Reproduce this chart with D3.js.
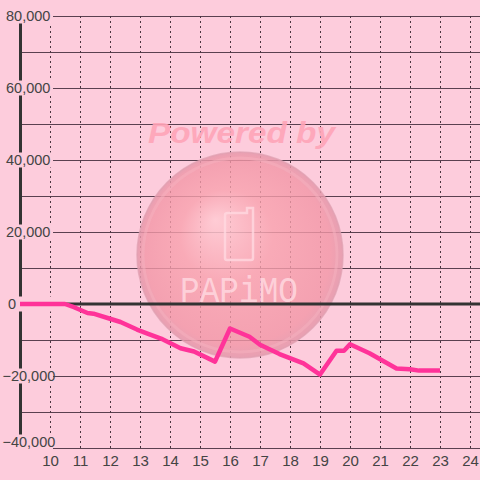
<!DOCTYPE html>
<html>
<head>
<meta charset="utf-8">
<script src="https://cdn.jsdelivr.net/npm/d3@7"></script>
<style>
  html, body { margin: 0; padding: 0; background: #fdccdc; }
  svg { display: block; }
  text { font-family: "Liberation Sans", Arial, sans-serif; fill: #444; }
</style>
</head>
<body>
<div id="chart"></div>
<script>
"use strict";

// data
var hourTicks = [10, 11, 12, 13, 14, 15, 16, 17, 18, 19, 20, 21, 22, 23, 24];
var valueTicks = [-40000, -20000, 0, 20000, 40000, 60000, 80000];
var gridValues = [-40000, -30000, -20000, -10000, 10000, 20000, 30000, 40000, 50000, 60000, 70000, 80000];
var times = [9, 10.5, 10.8, 11.25, 11.45, 12, 12.35, 12.9, 13.25, 13.7, 14.35, 14.8, 15.5,
             16, 16.65, 17, 17.65, 18.45, 19, 19.55, 19.8, 20, 20.65, 21.55, 22, 22.3, 23];
var balance = [0, 0, -900, -2500, -2700, -4100, -5000, -7100, -8200, -9600, -12300, -13200, -16000,
               -6800, -9100, -11300, -13900, -16500, -19600, -13000, -13000, -11200, -13700, -17900, -18100, -18500, -18500];

var width = 480,
    height = 480,
    plotTop = 16,
    plotBottom = 448,
    plotLeft = 20;

var x = d3.scaleLinear().domain([9, 24.3333]).range([plotLeft, width]),
    y = d3.scaleLinear().domain([-40000, 80000]).range([plotBottom, plotTop]),
    fmt = d3.format(",d");

var svg = d3.select("#chart").append("svg")
    .attr("width", width)
    .attr("height", height);

svg.append("rect")
    .attr("width", width)
    .attr("height", height)
    .attr("fill", "#fdccdc");

// horizontal grid
svg.append("g")
  .selectAll("line")
    .data(gridValues)
  .enter().append("line")
    .attr("x1", plotLeft).attr("x2", width)
    .attr("y1", function(d) { return Math.round(y(d)) + 0.5; })
    .attr("y2", function(d) { return Math.round(y(d)) + 0.5; })
    .attr("stroke", "#5a4050")
    .attr("stroke-width", 1);

// vertical dashed grid
svg.append("g")
  .selectAll("line")
    .data(hourTicks)
  .enter().append("line")
    .attr("x1", function(d) { return Math.round(x(d)) + 0.5; })
    .attr("x2", function(d) { return Math.round(x(d)) + 0.5; })
    .attr("y1", plotTop).attr("y2", plotBottom)
    .attr("stroke", "#4a3540")
    .attr("stroke-width", 1)
    .attr("stroke-dasharray", "2,3");

// watermark
var defs = svg.append("defs");
var grad = defs.append("radialGradient")
    .attr("id", "ball")
    .attr("cx", "50%").attr("cy", "50%").attr("r", "50%")
    .attr("fx", "38%").attr("fy", "33%");
grad.append("stop").attr("offset", "0%").attr("stop-color", "#ffccd4").attr("stop-opacity", 0.85);
grad.append("stop").attr("offset", "45%").attr("stop-color", "#f8a2ae").attr("stop-opacity", 0.8);
grad.append("stop").attr("offset", "90%").attr("stop-color", "#f296a6").attr("stop-opacity", 0.8);
grad.append("stop").attr("offset", "100%").attr("stop-color", "#e398ab").attr("stop-opacity", 0.85);

var mark = svg.append("g");
mark.append("text")
    .attr("x", 148).attr("y", 143)
    .attr("textLength", 187)
    .attr("lengthAdjust", "spacingAndGlyphs")
    .style("font-size", "30px")
    .style("font-weight", "bold")
    .style("font-style", "italic")
    .style("fill", "#ffa5b8")
    .style("opacity", 0.9)
    .text("Powered by");
mark.append("circle")
    .attr("cx", 240).attr("cy", 255).attr("r", 103)
    .attr("fill", "url(#ball)")
    .attr("stroke", "#e0a0b0")
    .attr("stroke-opacity", 0.7)
    .attr("stroke-width", 1.5);
mark.append("circle")
    .attr("cx", 240).attr("cy", 255).attr("r", 97)
    .attr("fill", "none")
    .attr("stroke", "#f6b2c0")
    .attr("stroke-opacity", 0.5)
    .attr("stroke-width", 3);
mark.append("path")
    .attr("d", "M228,213 H247 V208 H253 V258 Q253,260 251,260 H227 Q225,260 225,258 V215 Q225,213 228,213 Z")
    .attr("fill", "none")
    .attr("stroke", "#ffd8e0")
    .attr("stroke-opacity", 0.8)
    .attr("stroke-width", 2.5);
mark.append("text")
    .attr("x", 180).attr("y", 302)
    .attr("textLength", 118)
    .attr("lengthAdjust", "spacingAndGlyphs")
    .style("font-family", "'Liberation Mono', monospace")
    .style("font-size", "37px")
    .style("fill", "#ffd8e0")
    .style("fill-opacity", 0.85)
    .text("PAPiMO");

// zero line
svg.append("line")
    .attr("x1", plotLeft).attr("x2", width)
    .attr("y1", y(0)).attr("y2", y(0))
    .attr("stroke", "#333")
    .attr("stroke-width", 3);

// left axis
svg.append("line")
    .attr("x1", plotLeft + 0.5).attr("x2", plotLeft + 0.5)
    .attr("y1", plotTop).attr("y2", plotBottom)
    .attr("stroke", "#333")
    .attr("stroke-width", 3);

// y labels with boxes
var labelY = function(d) { return Math.min(y(d), plotBottom - 6); };
var yl = svg.append("g");
yl.selectAll("rect")
    .data(valueTicks)
  .enter().append("rect")
    .attr("x", 0).attr("width", 53)
    .attr("y", function(d) { return labelY(d) - 7.5; })
    .attr("height", function(d) { return d === -40000 ? 22 : 15; })
    .attr("fill", "#fdccdc");
yl.selectAll("text")
    .data(valueTicks)
  .enter().append("text")
    .attr("x", function(d) { return d < 0 ? 2.5 : (d === 0 ? 8 : 6); })
    .attr("y", function(d) { return labelY(d) + 5; })
    .style("font-size", "14.5px")
    .text(function(d) { return fmt(d); });

// balance line
var line = d3.line()
    .x(function(d, i) { return x(times[i]); })
    .y(function(d) { return y(d); });

svg.append("path")
    .datum(balance)
    .attr("d", line)
    .attr("fill", "none")
    .attr("stroke", "#ff3399")
    .attr("stroke-width", 4.5)
    .attr("stroke-linejoin", "round")
    .attr("stroke-linecap", "butt");

// x labels through axis
var xAxis = d3.axisBottom(x)
    .tickValues(hourTicks)
    .tickSize(0)
    .tickPadding(0)
    .tickFormat(d3.format("d"));

var xg = svg.append("g")
    .attr("transform", "translate(0," + 466 + ")")
    .call(xAxis);
xg.select(".domain").remove();
xg.selectAll("text")
    .attr("dy", 0)
    .attr("y", 0)
    .style("font-size", "15px")
    .style("font-family", "'Liberation Sans', Arial, sans-serif")
    .attr("fill", "#444");
</script>
</body>
</html>
